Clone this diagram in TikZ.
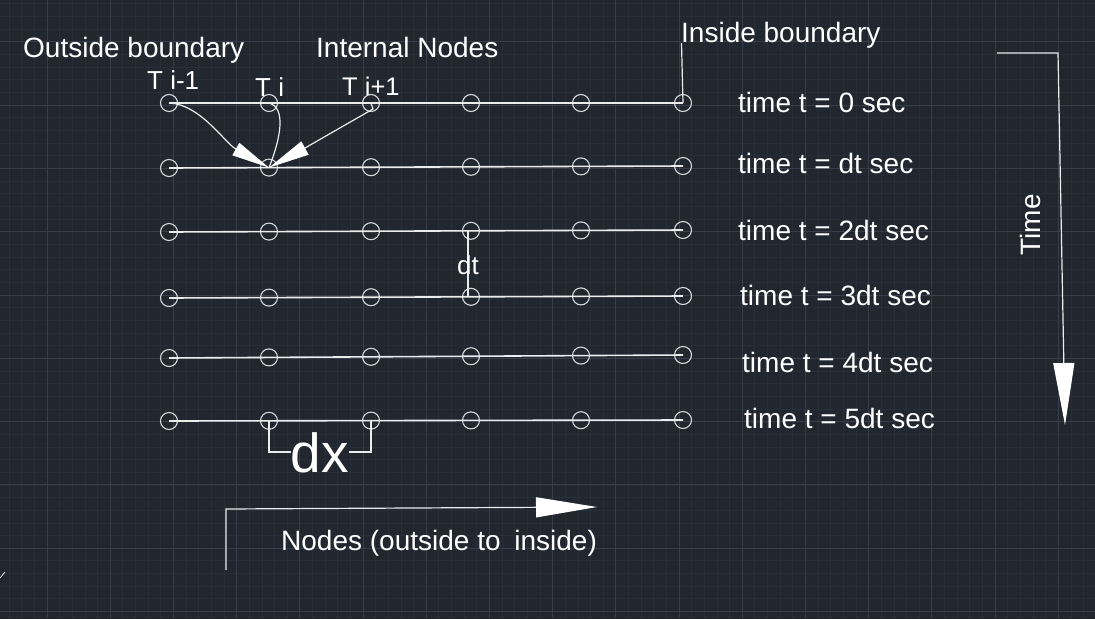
\documentclass[tikz,border=0pt]{standalone}
\usepackage{fontspec}
\setmainfont{Liberation Sans}
\usetikzlibrary{arrows.meta}
\definecolor{bgc}{RGB}{33,38,47}
\definecolor{minorc}{RGB}{40,46,56}
\definecolor{majorc}{RGB}{55,62,74}
\definecolor{inkc}{RGB}{236,236,236}
\definecolor{circc}{RGB}{214,216,219}
\begin{document}
\begin{tikzpicture}[x=1pt,y=-1pt,
  gridnode/.style={circle,draw=circc,line width=1.1pt,minimum size=17pt,inner sep=0pt},
  rowline/.style={draw=inkc,line width=1.6pt},
  thinconn/.style={draw=inkc,line width=1.2pt},
  lbl/.style={text=white,inner sep=0pt,anchor=base west,font=\fontsize{28}{32}\selectfont},
  smlbl/.style={text=white,inner sep=0pt,anchor=base west,font=\fontsize{26}{30}\selectfont},
  minorline/.style={draw=minorc,line width=0.7pt},
  majorline/.style={draw=majorc,line width=1pt}]
\useasboundingbox (0,0) rectangle (1095,619);
\fill[bgc] (0,0) rectangle (1095,619);
% grid
\foreach \i in {0,...,86} {\draw[minorline] ({9.08+12.64*\i},0) -- ({9.08+12.64*\i},619);}
\foreach \i in {0,...,49} {\draw[minorline] (0,{3.8+12.66*\i}) -- (1095,{3.8+12.66*\i});}
\foreach \i in {0,...,16} {\draw[majorline] ({47+63.2*\i},0) -- ({47+63.2*\i},619);}
\foreach \i in {0,...,9} {\draw[majorline] (0,{41.8+63.3*\i}) -- (1095,{41.8+63.3*\i});}
% nodes and row lines
\foreach \r/\yl/\yr in {1/103/103,2/168/166,3/232/230,4/298/296,5/358/355,6/421/420} {
  \foreach \c/\x [count=\k from 0] in {1/169,2/269,3/371,4/471,5/581,6/683} {
    \node[gridnode] (n\r\c) at (\x,{\yl+(\yr-\yl)*\k/5}) {};
  }
  \draw[rowline] (n\r1.center) -- (n\r6.center);
}
% stencil arrows
\draw[thinconn,-{Triangle[length=38pt,width=14pt,color=white,fill=white]}] (n11.center) .. controls (200,104) and (225,143) .. (n22.center);
\draw[thinconn] (n12.center) .. controls (287,108) and (280,140) .. (n22.center);
\draw[thinconn,-{Triangle[length=41pt,width=15pt,color=white,fill=white]}] (n13.center) -- ([shift={(2,6)}]n13.center) .. controls (345,125) and (305,148) .. (n22.center);
% labels top
\node[lbl] (ob) at (23,57) {Outside boundary};
\node[lbl] (in) at (316,57) {Internal Nodes};
\node[lbl] (ib) at (681,42) {Inside boundary};
\coordinate (ibl) at (681.5,43);
\draw[thinconn] (n16.center) -- (ibl);
\node[smlbl] (tim1) at (147,89) {T i-1};
\node[smlbl] (ti) at (255,96) {T i};
\node[smlbl,font=\fontsize{25.5}{30}\selectfont] (tip1) at (342,95) {T i+1};
% time labels
\node[lbl] (t0) at (738,112) {time t = 0 sec};
\node[lbl] (t1) at (738,173) {time t = dt sec};
\node[lbl] (t2) at (738,240) {time t = 2dt sec};
\node[lbl] (t3) at (740,305) {time t = 3dt sec};
\node[lbl] (t4) at (742,372) {time t = 4dt sec};
\node[lbl] (t5) at (744,428) {time t = 5dt sec};
% dt
\draw[thinconn] ([xshift=-3pt]n44.center) -- ([xshift=-3pt]n34.center);
\node[text=white,inner sep=0pt,anchor=base,font=\fontsize{26}{28}\selectfont] (dtl) at (468,274) {dt};
% dx
\coordinate (dxl) at (291,452);
\coordinate (dxr) at (349,452);
\draw[thinconn] (n62.center) |- (dxl);
\draw[thinconn] (dxr) -| (n63.center);
\node[text=white,inner sep=0pt,anchor=base,font=\fontsize{55}{60}\selectfont] (dxt) at (320,472) {dx};
% nodes arrow
\coordinate (na0) at (226,570);
\coordinate (na1) at (226,509);
\coordinate (na2) at (597,507);
\draw[thinconn,-{Triangle[length=61pt,width=20pt,color=white,fill=white]}] (na0) -- (na1) -- (na2);
\node[lbl] (nl) at (281,550) {Nodes (outside to\hspace{6pt} inside)};
% time arrow
\coordinate (ta0) at (997,53);
\coordinate (ta1) at (1058,53);
\coordinate (ta2) at (1065,425);
\draw[thinconn,-{Triangle[length=62pt,width=21pt,color=white,fill=white]}] (ta0) -- (ta1) -- (ta2);
\node[text=white,inner sep=0pt,anchor=base,rotate=90,font=\fontsize{28}{32}\selectfont] (tl) at (1040,225) {Time};
% small mark bottom left
\draw[thinconn,line width=0.8pt] (0,578) -- (5,572);
\end{tikzpicture}
\end{document}
